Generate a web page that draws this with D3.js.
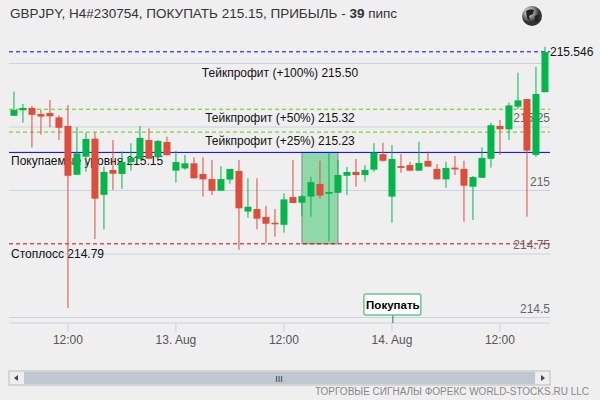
<!DOCTYPE html>
<html>
<head>
<meta charset="utf-8">
<script src="https://cdn.jsdelivr.net/npm/d3@7"></script>
<style>
  body { margin: 0; background: #efefef; }
  text { font-family: "Liberation Sans", Arial, sans-serif; }
</style>
</head>
<body>
<svg id="chart" width="600" height="400"></svg>
<script>
// OHLC per candle
var opens  = [215.294,215.316,215.325,215.301,215.305,215.288,215.254,215.062,215.133,215.204,
              214.983,215.081,215.065,215.112,215.124,215.199,215.131,215.191,215.078,215.087,
              215.107,215.065,215.045,214.999,215.043,215.077,214.917,214.927,214.896,214.873,
              214.865,214.974,214.952,214.976,215.026,214.987,214.991,215.058,215.073,215.061,
              215.082,215.143,214.976,215.096,215.100,215.078,215.116,215.085,215.044,215.090,
              215.085,215.015,215.050,215.125,215.254,215.241,215.330,215.360,215.140,215.387];
var highs  = [215.389,215.341,215.333,215.317,215.356,215.296,215.337,215.249,215.228,215.228,
              215.094,215.199,215.154,215.186,215.254,215.245,215.199,215.212,215.156,215.140,
              215.131,215.131,215.120,215.096,215.085,215.120,215.048,215.048,214.940,214.927,
              214.989,215.120,214.982,215.054,215.117,215.149,215.120,215.093,215.124,215.100,
              215.186,215.188,215.179,215.144,215.113,215.192,215.153,215.104,215.113,215.136,
              215.117,215.057,215.170,215.267,215.278,215.346,215.464,215.360,215.487,215.566];
var lows   = [215.294,215.267,215.169,215.220,215.249,215.199,214.537,215.062,215.074,214.809,
              214.847,215.002,215.007,215.078,215.124,215.125,215.131,215.139,215.031,215.081,
              215.048,214.976,214.982,214.999,215.026,214.766,214.893,214.847,214.794,214.818,
              214.834,214.951,214.897,214.897,214.968,214.801,214.991,214.982,215.015,215.035,
              215.074,215.113,214.873,215.070,215.078,215.078,215.094,215.044,215.011,215.061,
              214.877,214.884,215.050,215.090,215.140,215.199,215.321,214.897,215.133,215.387];
var closes = [215.317,215.325,215.298,215.291,215.292,215.247,215.058,215.146,215.203,214.968,
              215.073,215.066,215.112,215.129,215.207,215.125,215.195,215.139,215.112,215.107,
              215.048,215.044,214.999,215.045,215.085,214.930,214.936,214.889,214.869,214.867,
              214.965,214.951,214.978,215.033,214.980,214.994,215.061,215.073,215.061,215.081,
              215.149,215.117,215.124,215.089,215.078,215.108,215.094,215.044,215.089,215.083,
              215.019,215.053,215.128,215.257,215.241,215.335,215.355,215.157,215.380,215.545];

var priceTicks = [215.5, 215.25, 215, 214.75, 214.5];
var priceTickLabels = ["", "215.25", "215", "214.75", "214.5"];
var timeTickIndex = [6, 18, 30, 42, 54];
var timeTickLabels = ["12:00", "13. Aug", "12:00", "14. Aug", "12:00"];

var entryPrice = 215.15, stopPrice = 214.79, lastPrice = 215.546;
var takeProfits = [215.50, 215.32, 215.23];
var takeProfitLabels = ["Тейкпрофит (+100%) 215.50", "Тейкпрофит (+50%) 215.32", "Тейкпрофит (+25%) 215.23"];
var entryZone = [32, 36]; // candle slots spanned by the green box

var svg = d3.select("#chart");
var left = 9, right = 550, bottom = 323;

var x = d3.scaleLinear().domain([-0.55, 59.56]).range([left, right]);
var y = d3.scaleLinear().domain([214.5, 215.5]).range([317.5, 63.5]);

// title
var title = svg.append("text").attr("x", 10).attr("y", 18)
  .attr("font-size", 13.5).attr("fill", "#333");
title.append("tspan").text("GBPJPY, H4#230754, ПОКУПАТЬ 215.15, ПРИБЫЛЬ - ");
title.append("tspan").attr("font-weight", "bold").text("39");
title.append("tspan").text(" пипс");

// globe
var g = svg.append("g").attr("transform", "translate(532,16)");
var grad = svg.append("defs").append("radialGradient").attr("id", "gl").attr("cx", "35%").attr("cy", "30%");
grad.append("stop").attr("offset", "0%").attr("stop-color", "#fff");
grad.append("stop").attr("offset", "100%").attr("stop-color", "#333");
g.append("circle").attr("r", 10).attr("fill", "url(#gl)");
g.append("path").attr("d", "M-6,-5 Q-2,-8 2,-6 L1,-2 L-3,0 L-2,5 L-5,2 Z M3,0 L7,-2 L6,5 L3,6 Z").attr("fill", "#222");

// grid
svg.selectAll("line.grid").data(priceTicks).enter().append("line")
  .attr("x1", left).attr("x2", right)
  .attr("y1", function(d) { return y(d); }).attr("y2", function(d) { return y(d); })
  .attr("stroke", "#c5d3e2").attr("stroke-width", 1);

svg.selectAll("text.ptick").data(priceTicks).enter().append("text")
  .attr("x", 550).attr("y", function(d) { return y(d) - 5; })
  .attr("text-anchor", "end").attr("font-size", 12).attr("fill", "#666")
  .text(function(d, i) { return priceTickLabels[i]; });

// entry zone box
svg.append("rect")
  .attr("x", x(entryZone[0])).attr("width", x(entryZone[1]) - x(entryZone[0]))
  .attr("y", y(entryPrice)).attr("height", y(stopPrice) - y(entryPrice))
  .attr("fill", "#8fd9a8").attr("stroke", "#888");

// level lines
function level(p, color, dash) {
  svg.append("line").attr("x1", left).attr("x2", right)
    .attr("y1", y(p)).attr("y2", y(p))
    .attr("stroke", color).attr("stroke-dasharray", dash);
}
level(lastPrice, "#0000ff", "4,3");
level(takeProfits[1], "#66cc00", "4,3");
level(takeProfits[2], "#66cc00", "4,3");
level(entryPrice, "#0000ff", null);
level(stopPrice, "#dd0000", "4,3");

// level labels (drawn under the candles)
svg.selectAll("text.tp").data(takeProfits).enter().append("text")
  .attr("x", 280).attr("y", function(d) { return y(d) + 13; })
  .attr("text-anchor", "middle").attr("font-size", 12).attr("fill", "#111")
  .text(function(d, i) { return takeProfitLabels[i]; });
svg.append("text").attr("x", 11).attr("y", y(entryPrice) + 13)
  .attr("font-size", 12).attr("fill", "#111").text("Покупаемые уровня 215.15");
svg.append("text").attr("x", 11).attr("y", y(stopPrice) + 14)
  .attr("font-size", 12).attr("fill", "#111").text("Стоплосс 214.79");
svg.append("text").attr("x", 550).attr("y", y(lastPrice) + 4)
  .attr("font-size", 12).attr("fill", "#111").text("215.546");

// candles
var data = opens.map(function(o, i) {
  return { i: i, o: o, h: highs[i], l: lows[i], c: closes[i] };
});
var cg = svg.append("g");
cg.selectAll("line.wick").data(data).enter().append("line")
  .attr("x1", function(d) { return x(d.i); }).attr("x2", function(d) { return x(d.i); })
  .attr("y1", function(d) { return y(d.h); }).attr("y2", function(d) { return y(d.l); })
  .attr("stroke", function(d) { return d.c >= d.o ? "#00b84a" : "#e04b3a"; });
cg.selectAll("rect.body").data(data).enter().append("rect")
  .attr("x", function(d) { return x(d.i) - 3.5; }).attr("width", 7)
  .attr("y", function(d) { return y(Math.max(d.o, d.c)); })
  .attr("height", function(d) { return Math.max(1.5, Math.abs(y(d.o) - y(d.c))); })
  .attr("fill", function(d) { return d.c >= d.o ? "#00b84a" : "#e04b3a"; });

// time axis
svg.append("line").attr("x1", left).attr("x2", right).attr("y1", bottom).attr("y2", bottom)
  .attr("stroke", "#c5d3e2");
svg.selectAll("line.tt").data(timeTickIndex).enter().append("line")
  .attr("x1", function(d) { return x(d); }).attr("x2", function(d) { return x(d); })
  .attr("y1", bottom).attr("y2", bottom + 9).attr("stroke", "#c5d3e2");
svg.selectAll("text.tt").data(timeTickIndex).enter().append("text")
  .attr("x", function(d) { return x(d); }).attr("y", 344)
  .attr("text-anchor", "middle").attr("font-size", 12).attr("fill", "#555")
  .text(function(d, i) { return timeTickLabels[i]; });

// buy flag
var fx = x(42.1);
svg.append("line").attr("x1", fx).attr("x2", fx).attr("y1", 314).attr("y2", bottom)
  .attr("stroke", "#118844");
svg.append("rect").attr("x", fx - 29).attr("y", 294).attr("width", 57).attr("height", 21)
  .attr("rx", 2).attr("fill", "#fff").attr("stroke", "#66c98a").attr("stroke-width", 1.5);
svg.append("text").attr("x", fx).attr("y", 308.5).attr("text-anchor", "middle")
  .attr("font-size", 11.5).attr("font-weight", "bold").attr("fill", "#000").text("Покупать");

// scrollbar
svg.append("rect").attr("x", left).attr("y", 371).attr("width", right - left).attr("height", 14)
  .attr("fill", "#eee").attr("stroke", "#bbb");
svg.append("rect").attr("x", left + 15).attr("y", 372).attr("width", right - left - 30).attr("height", 12)
  .attr("fill", "#bfc8d2");
svg.append("path").attr("d", "M18,375 L14,378 L18,381 Z").attr("fill", "#444");
svg.append("path").attr("d", "M541,375 L545,378 L541,381 Z").attr("fill", "#444");
svg.append("text").attr("x", 279).attr("y", 382).attr("text-anchor", "middle")
  .attr("font-size", 9).attr("fill", "#333").text("III");

svg.append("text").attr("x", 589).attr("y", 395).attr("text-anchor", "end")
  .attr("font-size", 10).attr("fill", "#888").text("ТОРГОВЫЕ СИГНАЛЫ ФОРЕКС WORLD-STOCKS.RU LLC");
</script>
</body>
</html>
